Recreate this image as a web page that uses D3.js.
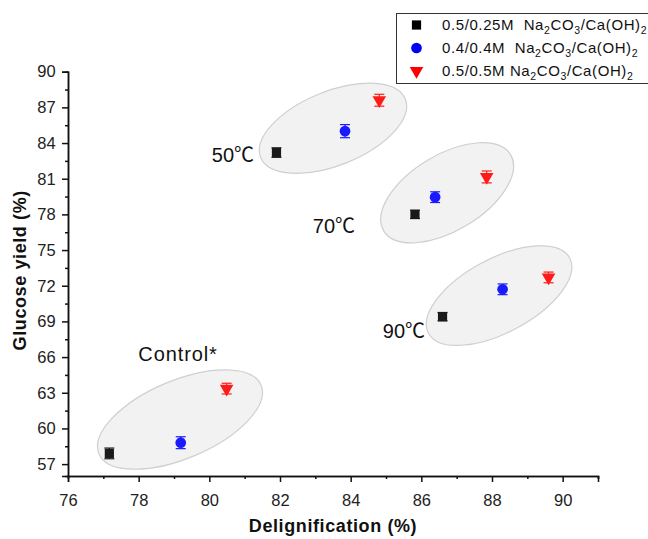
<!DOCTYPE html>
<html>
<head>
<meta charset="utf-8">
<script src="https://cdn.jsdelivr.net/npm/d3@7"></script>
<style>
  body { margin: 0; background: #fff; }
  svg { display: block; font-family: "Liberation Sans", Arial, sans-serif; }
</style>
</head>
<body>
<svg id="chart" width="648" height="539"></svg>
<script>
// ---- data ----
const seriesNames = ["0.5/0.25M", "0.4/0.4M", "0.5/0.5M"];
const seriesSpacing = ["  ", "  ", " "];
const seriesColors = ["#1a1a1a", "#1a1aff", "#ff1a1a"];
const groups = ["Control*", "50℃", "70℃", "90℃"];
// delignification (%) per group, per series
const delig0 = [77.17, 81.9, 85.82, 86.6];
const delig1 = [79.19, 83.84, 86.39, 88.3];
const delig2 = [80.49, 84.81, 87.85, 89.6];
// glucose yield (%) per group, per series
const glucose0 = [57.9, 83.2, 78.0, 69.4];
const glucose1 = [58.8, 85.0, 79.45, 71.7];
const glucose2 = [63.35, 87.6, 81.15, 72.7];
// error (±) per group
const err0 = [0.45, 0.4, 0.35, 0.35];
const err1 = [0.5, 0.55, 0.45, 0.45];
const err2 = [0.45, 0.5, 0.5, 0.45];
// group ellipse centres (data units)
const ellipseX = [79.17, 83.5, 86.73, 88.2];
const ellipseY = [60.75, 85.24, 79.82, 71.17];
// group label anchor (data units, left/baseline)
const labelX = [77.99, 80.07, 82.93, 84.91];
const labelY = [65.69, 82.41, 76.45, 67.6];
const xTicks = [76, 78, 80, 82, 84, 86, 88, 90];
const yTicks = [57, 60, 63, 66, 69, 72, 75, 78, 81, 84, 87, 90];

// ---- layout ----
const svg = d3.select("#chart");
const x = d3.scaleLinear().domain([76, 91]).range([68, 598]);
const y = d3.scaleLinear().domain([56, 90]).range([476, 71.7]);

// ellipse shapes (pixel radii / rotation as style)
const ellipseStyle = [
  {rx: 88, ry: 39, rot: -23},
  {rx: 78, ry: 37, rot: -22},
  {rx: 74, ry: 38, rot: -31},
  {rx: 80, ry: 37, rot: -28}
];
svg.append("g").selectAll("ellipse").data(groups).join("ellipse")
  .attr("cx", 0).attr("cy", 0)
  .attr("rx", (d, i) => ellipseStyle[i].rx)
  .attr("ry", (d, i) => ellipseStyle[i].ry)
  .attr("transform", (d, i) => `translate(${x(ellipseX[i])},${y(ellipseY[i])}) rotate(${ellipseStyle[i].rot})`)
  .attr("fill", "#f2f2f2")
  .attr("stroke", "#cfcfcf")
  .attr("stroke-width", 1.2);

// group labels
svg.append("g").selectAll("text").data(groups).join("text")
  .attr("x", (d, i) => x(labelX[i]))
  .attr("y", (d, i) => y(labelY[i]))
  .attr("font-size", 20)
  .attr("letter-spacing", (d, i) => i === 0 ? 0.9 : 0)
  .attr("font-family", "'Liberation Sans', 'Noto Sans CJK SC', sans-serif")
  .attr("fill", "#111")
  .text(d => d);

// axes
const xAxis = d3.axisBottom(x).tickValues(xTicks).tickSize(6).tickFormat(d3.format("d"));
const xMinor = d3.axisBottom(x).tickValues(d3.range(77, 92, 2)).tickSize(3).tickFormat("");
const yAxis = d3.axisLeft(y).tickValues(yTicks).tickSize(6).tickFormat(d3.format("d"));
const yMinor = d3.axisLeft(y).tickValues(d3.range(58.5, 90, 3)).tickSize(3).tickFormat("");

function styleAxis(g) {
  g.select(".domain").attr("stroke", "#111").attr("stroke-width", 1.5);
  g.selectAll(".tick line").attr("stroke", "#111").attr("stroke-width", 1.5);
  g.selectAll(".tick text").attr("font-size", 16.5).attr("fill", "#222")
    .attr("font-family", "Liberation Sans, Arial, sans-serif");
}
svg.append("g").attr("transform", "translate(0,476)").call(xMinor).call(styleAxis);
svg.append("g").attr("transform", "translate(0,476)").call(xAxis).call(styleAxis)
  .selectAll(".tick text").attr("dy", "1.3em");
svg.append("g").attr("transform", "translate(68,0)").call(yMinor).call(styleAxis);
svg.append("g").attr("transform", "translate(68,0)").call(yAxis).call(styleAxis)
  .selectAll(".tick text").attr("dx", "-0.2em");

// axis titles
svg.append("text")
  .attr("x", x(83.5)).attr("y", 532)
  .attr("text-anchor", "middle")
  .attr("font-size", 18).attr("font-weight", "bold").attr("fill", "#111")
  .attr("letter-spacing", 0.6)
  .text("Delignification (%)");
svg.append("text")
  .attr("transform", `translate(26,${y(73.3)}) rotate(-90)`)
  .attr("text-anchor", "middle")
  .attr("font-size", 18).attr("font-weight", "bold").attr("fill", "#111")
  .attr("letter-spacing", 0.6)
  .text("Glucose yield (%)");

// data
const delig = [delig0, delig1, delig2];
const glucose = [glucose0, glucose1, glucose2];
const errs = [err0, err1, err2];
const points = [];
for (let s = 0; s < 3; s++) {
  for (let g = 0; g < groups.length; g++) {
    points.push({s, x: delig[s][g], y: glucose[s][g], e: errs[s][g]});
  }
}
const pg = svg.append("g");
// error bars
const eb = pg.selectAll("g.eb").data(points).join("g").attr("class", "eb")
  .attr("stroke", d => seriesColors[d.s]).attr("stroke-width", 1.2);
eb.append("line")
  .attr("x1", d => x(d.x)).attr("x2", d => x(d.x))
  .attr("y1", d => y(d.y - d.e)).attr("y2", d => y(d.y + d.e));
eb.append("line")
  .attr("x1", d => x(d.x) - 5).attr("x2", d => x(d.x) + 5)
  .attr("y1", d => y(d.y - d.e)).attr("y2", d => y(d.y - d.e));
eb.append("line")
  .attr("x1", d => x(d.x) - 5).attr("x2", d => x(d.x) + 5)
  .attr("y1", d => y(d.y + d.e)).attr("y2", d => y(d.y + d.e));

const symbols = [d3.symbolSquare, d3.symbolCircle, d3.symbolTriangle];
const symSize = [85, 90, 80];
pg.selectAll("path.pt").data(points).join("path").attr("class", "pt")
  .attr("d", d => d3.symbol().type(symbols[d.s]).size(symSize[d.s])())
  .attr("transform", d => `translate(${x(d.x)},${y(d.y)})${d.s === 2 ? " rotate(180)" : ""}`)
  .attr("fill", d => seriesColors[d.s]);

// legend
const lg = svg.append("g");
lg.append("rect").attr("x", 396.5).attr("y", 13.5).attr("width", 260).attr("height", 70)
  .attr("fill", "#fff").attr("stroke", "#333").attr("stroke-width", 1);
const legendY = [25, 48, 71];
const legendColors = ["#000", "#0000ff", "#ff0000"];
seriesNames.forEach((n, i) => {
  const sym = d3.symbol().type(symbols[i]).size(symSize[i])();
  lg.append("path").attr("d", sym)
    .attr("transform", `translate(416.5,${legendY[i]})${i === 2 ? " rotate(180)" : ""}`)
    .attr("fill", legendColors[i]);
  const t = lg.append("text").attr("x", 442).attr("y", legendY[i] + 5)
    .attr("font-size", 15).attr("fill", "#111").attr("xml:space", "preserve")
    .attr("letter-spacing", 0.6)
    .style("white-space", "pre");
  t.append("tspan").text(n + seriesSpacing[i] + "Na");
  t.append("tspan").attr("font-size", 10.5).attr("dy", 4).text("2");
  t.append("tspan").attr("dy", -4).text("CO");
  t.append("tspan").attr("font-size", 10.5).attr("dy", 4).text("3");
  t.append("tspan").attr("dy", -4).text("/Ca(OH)");
  t.append("tspan").attr("font-size", 10.5).attr("dy", 4).text("2");
});
</script>
</body>
</html>
